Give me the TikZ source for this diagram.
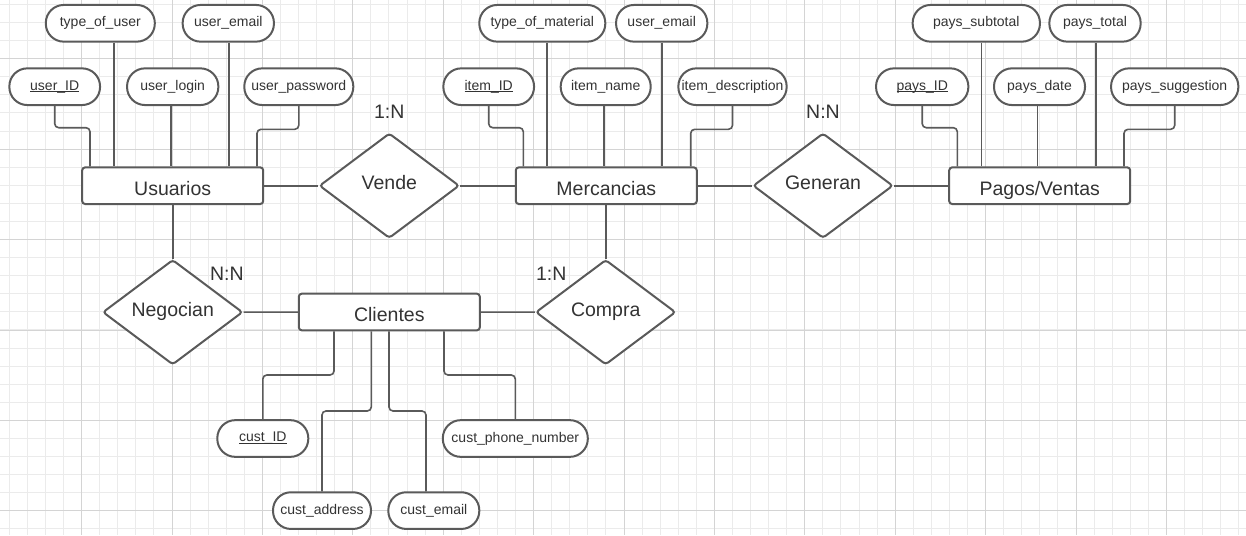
\documentclass[tikz,border=0pt]{standalone}
\usepackage{fontspec}
\setmainfont{Liberation Sans}
\usetikzlibrary{
    shapes.geometric,
    positioning,
}
\definecolor{linegray}{HTML}{5A5A5A}
\definecolor{textgray}{HTML}{333333}
\definecolor{gridlight}{HTML}{EBEBEB}
\definecolor{gridmid}{HTML}{D4D4D4}
\newcommand{\entfont}{\fontsize{19.5}{22}\selectfont}
\newcommand{\attfont}{\fontsize{14}{16}\selectfont}
\newcommand{\pkey}[1]{\setbox0\hbox{#1}\rlap{\rule[-1.6pt]{\wd0}{0.8pt}}\box0}
\tikzstyle{entity} = [rectangle, draw=linegray, line width=2pt, fill=white,
    rounded corners=3pt, minimum width=181pt, minimum height=36.7pt,
    text=textgray, font=\entfont, text height=19.2pt, text depth=0pt]
\tikzstyle{relation} = [diamond, draw=linegray, line width=2pt, fill=white,
    rounded corners=3pt, minimum width=140pt, minimum height=105pt, inner sep=0pt,
    text=textgray, font=\entfont, text height=8pt, text depth=0pt]
\tikzstyle{attrib} = [rectangle, draw=linegray, line width=2pt, fill=white,
    rounded corners=18pt, minimum height=36.7pt, inner sep=1pt,
    text=textgray, font=\attfont]
\tikzstyle{line} = [draw=linegray, line width=1.6pt]
\tikzstyle{card} = [text=textgray, font=\entfont]
\tikzstyle{gridminor} = [draw=gridlight, line width=0.8pt]
\tikzstyle{gridmajor} = [draw=gridmid, line width=0.8pt]

\begin{document}
\begin{tikzpicture}[x=1pt, y=-1pt]
        \useasboundingbox (0,0) rectangle (1246,535);
        % Background grid
        \fill [white] (0,0) rectangle (1246,535);
        \foreach \i in {0,...,68}
            \path [gridminor] ({9.2+18.08*\i},0) -- ({9.2+18.08*\i},535);
        \foreach \i in {0,...,29}
            \path [gridminor] (0,{4.4+18.08*\i}) -- (1246,{4.4+18.08*\i});
        \foreach \i in {0,...,12}
            \path [gridmajor] ({81.5+90.4*\i},0) -- ({81.5+90.4*\i},535);
        \foreach \i in {0,...,5}
            \path [gridmajor] (0,{58.7+90.4*\i}) -- (1246,{58.7+90.4*\i});
        % Place entities and relations
        \node [entity] (usuarios) at (172.7,185.7) {Usuarios};
        \node [entity] (mercancias) at (606.3,185.7) {Mercancias};
        \node [entity] (pagos) at (1039.7,185.7) {Pagos/Ventas};
        \node [entity] (clientes) at (389.3,312) {Clientes};
        \node [relation] (vende) at (389.3,185.7) {Vende};
        \node [relation] (generan) at (823,185.7) {Generan};
        \node [relation] (negocian) at (172.7,312.2) {Negocian};
        \node [relation] (compra) at (605.7,312.2) {Compra};
        % Cardinalities
        \node [card] (card_vende) at (389.3,111.7) {1:N};
        \node [card] (card_generan) at (823,111.7) {N:N};
        \node [card] (card_negocian) at (226.8,273.3) {N:N};
        \node [card] (card_compra) at (551.3,273.3) {1:N};
        % Attributes of Usuarios
        \node [attrib, minimum width=109pt] (type_user) at (100.3,23.3) {type\_of\_user};
        \node [attrib, minimum width=91.3pt] (user_email) at (228.3,23.3) {user\_email};
        \node [attrib, minimum width=90.7pt] (user_id) at (54.7,86.7) {\pkey{user\_ID}};
        \node [attrib, minimum width=91.3pt] (user_login) at (172.7,86.7) {user\_login};
        \node [attrib, minimum width=109pt] (user_pass) at (298.8,86.7) {user\_password};
        % Attributes of Mercancias
        \node [attrib, minimum width=126pt] (type_mat) at (542.3,23.3) {type\_of\_material};
        \node [attrib, minimum width=91.3pt] (item_email) at (661.7,23.3) {user\_email};
        \node [attrib, minimum width=90.7pt] (item_id) at (488.7,86.7) {\pkey{item\_ID}};
        \node [attrib, minimum width=90pt] (item_name) at (605.7,86.7) {item\_name};
        \node [attrib, minimum width=108.3pt, inner sep=0pt] (item_desc) at (732.5,86.7) {item\_description};
        % Attributes of Pagos/Ventas
        \node [attrib, minimum width=127.3pt] (pays_sub) at (976.3,23.3) {pays\_subtotal};
        \node [attrib, minimum width=91.3pt] (pays_total) at (1095,23.3) {pays\_total};
        \node [attrib, minimum width=92.3pt] (pays_id) at (922.2,86.7) {\pkey{pays\_ID}};
        \node [attrib, minimum width=91pt] (pays_date) at (1039.5,86.7) {pays\_date};
        \node [attrib, minimum width=127.3pt] (pays_sug) at (1174.7,86.7) {pays\_suggestion};
        % Attributes of Clientes
        \node [attrib, minimum width=91pt] (cust_id) at (262.8,438.5) {\pkey{cust\_ID}};
        \node [attrib, minimum width=145pt] (cust_phone) at (515.3,438.5) {cust\_phone\_number};
        \node [attrib, minimum width=98pt] (cust_addr) at (322,510.6) {cust\_address};
        \node [attrib, minimum width=91pt] (cust_email) at (433.8,510.6) {cust\_email};
        % Draw relation edges
        \path [line] (usuarios) -- (vende);
        \path [line] (vende) -- (mercancias);
        \path [line] (mercancias) -- (generan);
        \path [line] (generan) -- (pagos);
        \path [line] (usuarios) -- (negocian);
        \path [line] (negocian) -- (clientes);
        \path [line] (clientes) -- (compra);
        \path [line] (compra.north) -- (compra.north |- mercancias.south);
        % Draw attribute edges
        \path [line, rounded corners=4pt] (user_id.south) |- (90,127.7) -- (90,0 |- usuarios.north);
        \path [line] (114,0 |- type_user.south) -- (114,0 |- usuarios.north);
        \path [line] (170.7,0 |- user_login.south) -- (170.7,0 |- usuarios.north);
        \path [line] (228.7,0 |- user_email.south) -- (228.7,0 |- usuarios.north);
        \path [line, rounded corners=4pt] (user_pass.south) |- (257,129.3) -- (257,0 |- usuarios.north);
        \path [line, rounded corners=4pt] (item_id.south) |- (523.3,127.7) -- (523.3,0 |- mercancias.north);
        \path [line] (547,0 |- type_mat.south) -- (547,0 |- mercancias.north);
        \path [line] (604,0 |- item_name.south) -- (604,0 |- mercancias.north);
        \path [line] (item_email.south) -- (item_email.south |- mercancias.north);
        \path [line, rounded corners=4pt] (item_desc.south) |- (690.7,129.3) -- (690.7,0 |- mercancias.north);
        \path [line, rounded corners=4pt] (pays_id.south) |- (957.3,127.7) -- (957.3,0 |- pagos.north);
        \path [line] (981.3,0 |- pays_sub.south) -- (981.3,0 |- pagos.north);
        \path [line] (1037.3,0 |- pays_date.south) -- (1037.3,0 |- pagos.north);
        \path [line] (1095.7,0 |- pays_total.south) -- (1095.7,0 |- pagos.north);
        \path [line, rounded corners=4pt] (pays_sug.south) |- (1124,129.3) -- (1124,0 |- pagos.north);
        \path [line, rounded corners=4pt] (334,0 |- clientes.south) |- (cust_id.north |- 0,375) -- (cust_id.north);
        \path [line, rounded corners=4pt] (371.3,0 |- clientes.south) |- (cust_addr.north |- 0,411) -- (cust_addr.north);
        \path [line, rounded corners=4pt] (389,0 |- clientes.south) |- (426,411) -- (426,0 |- cust_email.north);
        \path [line, rounded corners=4pt] (444,0 |- clientes.south) |- (cust_phone.north |- 0,375) -- (cust_phone.north);
    \end{tikzpicture}
\end{document}
